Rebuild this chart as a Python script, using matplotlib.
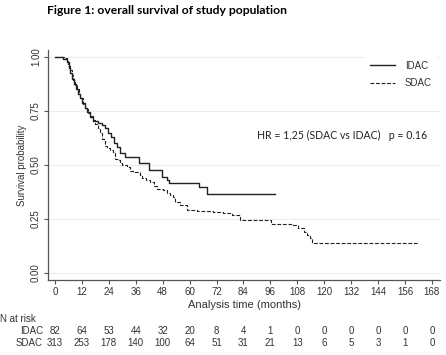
import numpy as np
import matplotlib.pyplot as plt
from matplotlib.transforms import blended_transform_factory

# Kaplan-Meier steps (time of drop, survival after drop)
idac_t = [0, 3.5, 5.5, 6.2, 6.8, 7.6, 8.4, 9.2, 10.2, 11.2, 12.2, 13.3, 14.5, 15.5,
          17.0, 19.0, 21.0, 22.5, 23.5, 25.0, 26.5, 27.8, 29.0, 31.0, 37.5, 41.8,
          47.8, 49.8, 50.8, 64.0, 67.6]
idac_s = [1.0, 0.99, 0.975, 0.95, 0.925, 0.90, 0.875, 0.85, 0.83, 0.81, 0.785, 0.765,
          0.745, 0.72, 0.705, 0.695, 0.685, 0.67, 0.65, 0.63, 0.60, 0.585, 0.555,
          0.537, 0.51, 0.477, 0.445, 0.43, 0.417, 0.40, 0.366]
idac_end = 98

sdac_t = [0, 4.5, 5.3, 6.0, 6.7, 7.4, 8.0, 8.9, 9.8, 10.5, 11.1, 12.5, 13.6, 14.7,
          15.8, 16.9, 18.0, 19.2, 20.0, 21.0, 22.3, 23.2, 24.5, 25.8, 26.7, 28.0,
          29.0, 29.9, 32.0, 33.4, 34.8, 37.9, 38.8, 40.5, 42.3, 44.0, 45.5, 48.1,
          50.0, 51.2, 52.6, 53.5, 55.7, 58.8, 63.5, 70.4, 74.9, 79.0, 82.4, 96.5,
          106.0, 108.3, 111.0, 112.5, 113.5, 114.5]
sdac_s = [1.0, 0.995, 0.985, 0.96, 0.94, 0.915, 0.895, 0.87, 0.85, 0.83, 0.81, 0.78,
          0.76, 0.74, 0.725, 0.71, 0.69, 0.67, 0.65, 0.62, 0.59, 0.58, 0.57, 0.56,
          0.53, 0.523, 0.51, 0.50, 0.49, 0.47, 0.467, 0.455, 0.44, 0.43, 0.42, 0.405,
          0.39, 0.385, 0.37, 0.36, 0.35, 0.33, 0.315, 0.29, 0.287, 0.282, 0.278,
          0.27, 0.245, 0.227, 0.222, 0.208, 0.19, 0.175, 0.16, 0.14]
sdac_end = 162

xticks = [0, 12, 24, 36, 48, 60, 72, 84, 96, 108, 120, 132, 144, 156, 168]
yticks = [0.0, 0.25, 0.5, 0.75, 1.0]
risk_idac = [82, 64, 53, 44, 32, 20, 8, 4, 1, 0, 0, 0, 0, 0, 0]
risk_sdac = [313, 253, 178, 140, 100, 64, 51, 31, 21, 13, 6, 5, 3, 1, 0]

plt.rcParams['font.family'] = ['Liberation Sans', 'DejaVu Sans']
fs = 7
dark = '#333333'

fig = plt.figure(figsize=(4.46, 3.55), dpi=100)
W, H = 446, 355
ax = fig.add_axes([48 / W, 1 - 280 / H, (440 - 48) / W, 230 / H])

for y in yticks:
    ax.axhline(y, color='#e6eef0', lw=0.8, zorder=0)

ax.plot(idac_t + [idac_end], idac_s + [idac_s[-1]], drawstyle='steps-post',
        color='#222222', lw=1.0, label='IDAC')
ax.plot(sdac_t + [sdac_end], sdac_s + [sdac_s[-1]], drawstyle='steps-post',
        color='#222222', lw=0.8, dashes=(3.4, 1.6), label='SDAC')

ax.set_xlim(-3.1, 171.6)
ax.set_ylim(-0.032, 1.032)
ax.set_xticks(xticks)
ax.set_xticklabels([str(t) for t in xticks], fontsize=fs, color=dark)
ax.set_yticks(yticks)
ax.set_yticklabels(['0.00', '0.25', '0.50', '0.75', '1.00'], fontsize=fs,
                   color=dark, rotation=90, va='center')
ax.tick_params(length=3, width=0.8, color='#555555', pad=2)
for side in ['top', 'right']:
    ax.spines[side].set_visible(False)
for side in ['left', 'bottom']:
    ax.spines[side].set_color('#555555')
    ax.spines[side].set_linewidth(0.9)

leg = ax.legend(loc='upper left', bbox_to_anchor=(360 / W, 1 - 51 / H),
                bbox_transform=fig.transFigure, fontsize=fs, frameon=True,
                handlelength=2.6, handletextpad=1.0, labelspacing=0.75,
                borderpad=0.5)
leg.get_frame().set_facecolor('white')
leg.get_frame().set_edgecolor('none')
leg.get_frame().set_alpha(1)
for t in leg.get_texts():
    t.set_color(dark)

ax.text(90, 0.635, 'HR = 1,25 (SDAC vs IDAC)   p = 0.16', fontsize=7.6,
        family=['Lato', 'DejaVu Sans'], color='#222222', va='center')

fig.text(47 / W, 1 - 11 / H, 'Figure 1: overall survival of study population',
         fontsize=8.7, fontweight='bold', family=['Lato', 'DejaVu Sans'],
         va='center', ha='left')

fig.text(22 / W, 1 - 165 / H, 'Survival probability', rotation=90, fontsize=fs,
         color=dark, ha='center', va='center')
fig.text(245 / W, 1 - 305 / H, 'Analysis time (months)', fontsize=8,
         color=dark, ha='center', va='center')

tr = blended_transform_factory(ax.transData, fig.transFigure)
fig.text(0, 1 - 319 / H, 'N at risk', fontsize=fs, color=dark, va='center')
fig.text(43 / W, 1 - 331 / H, 'IDAC', fontsize=fs, color=dark, va='center', ha='right')
fig.text(43 / W, 1 - 343 / H, 'SDAC', fontsize=fs, color=dark, va='center', ha='right')
for x, a, b in zip(xticks, risk_idac, risk_sdac):
    ax.text(x, 1 - 331 / H, str(a), transform=tr, fontsize=fs, color=dark,
            ha='center', va='center')
    ax.text(x, 1 - 343 / H, str(b), transform=tr, fontsize=fs, color=dark,
            ha='center', va='center')

fig.savefig('out.png', dpi=100, facecolor='white')
